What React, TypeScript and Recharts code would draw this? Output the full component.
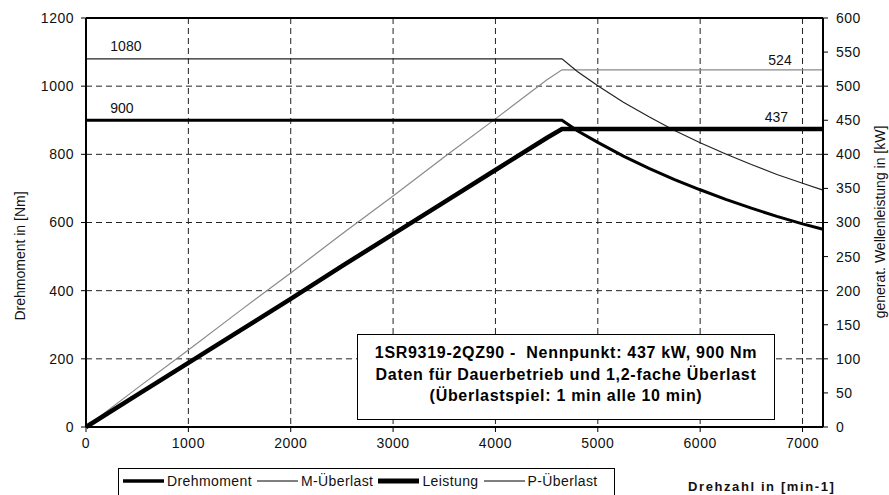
import {
  ComposedChart,
  Line,
  XAxis,
  YAxis,
  CartesianGrid,
  ReferenceLine,
  ReferenceDot,
} from 'recharts';

const FONT = "'Liberation Sans', Arial, sans-serif";

// Drehzahl in min-1
const speed = [0, 500, 1000, 1500, 2000, 2500, 3000, 3500, 4000, 4500, 4650, 4800, 5000, 5250, 5500, 5750, 6000, 6250, 6500, 6750, 7000, 7200];
// Nm
const drehmoment = [900, 900, 900, 900, 900, 900, 900, 900, 900, 900, 900, 869, 835, 795, 759, 726, 696, 668, 642, 618, 596, 580];
const mUeberlast = [1080, 1080, 1080, 1080, 1080, 1080, 1080, 1080, 1080, 1080, 1080, 1043, 1001, 953, 910, 870, 834, 801, 770, 741, 715, 695];
// kW
const leistung = [0, 47, 94, 141, 188, 236, 283, 330, 377, 424, 437, 437, 437, 437, 437, 437, 437, 437, 437, 437, 437, 437];
const pUeberlast = [0, 57, 113, 170, 226, 283, 339, 396, 452, 509, 524, 524, 524, 524, 524, 524, 524, 524, 524, 524, 524, 524];

const xTicks = [0, 1000, 2000, 3000, 4000, 5000, 6000, 7000];
const leftTicks = [0, 200, 400, 600, 800, 1000, 1200];
const rightTicks = [0, 50, 100, 150, 200, 250, 300, 350, 400, 450, 500, 550, 600];

const infoLines = [
  '1SR9319-2QZ90 -  Nennpunkt: 437 kW, 900 Nm',
  'Daten für Dauerbetrieb und 1,2-fache Überlast',
  '(Überlastspiel: 1 min alle 10 min)',
];

const legendItems = [
  { name: 'Drehmoment', width: 3.5, color: '#000' },
  { name: 'M-Überlast', width: 1, color: '#000' },
  { name: 'Leistung', width: 5, color: '#000' },
  { name: 'P-Überlast', width: 1, color: '#000' },
];

const data = speed.map((n, i) => ({
  n,
  drehmoment: drehmoment[i],
  mUeberlast: mUeberlast[i],
  leistung: leistung[i],
  pUeberlast: pUeberlast[i],
}));

const tickStyle = { fill: '#111', fontSize: 14, fontFamily: FONT, letterSpacing: 0.5 };

export default function App() {
  return (
    <div style={{ position: 'absolute', left: 0, top: 0, width: 889, height: 495, background: '#fff', fontFamily: FONT }}>
      <ComposedChart width={889} height={495} data={data} margin={{ top: 18, right: 0, bottom: 38, left: 0 }}>
        <CartesianGrid
          yAxisId="left"
          stroke="#222"
          strokeDasharray="6 4"
          strokeWidth={1}
        />
        <XAxis
          dataKey="n"
          type="number"
          domain={[0, 7200]}
          ticks={xTicks}
          height={30}
          tick={tickStyle}
          tickSize={5}
          tickMargin={6}
          axisLine={{ stroke: '#000', strokeWidth: 2 }}
          tickLine={{ stroke: '#000' }}
        />
        <YAxis
          yAxisId="left"
          domain={[0, 1200]}
          ticks={leftTicks}
          width={86}
          tick={tickStyle}
          tickSize={5}
          tickMargin={7}
          axisLine={{ stroke: '#000', strokeWidth: 2 }}
          tickLine={{ stroke: '#000' }}
        />
        <YAxis
          yAxisId="right"
          orientation="right"
          domain={[0, 600]}
          ticks={rightTicks}
          width={66}
          tick={tickStyle}
          tickSize={5}
          tickMargin={8}
          axisLine={{ stroke: '#000', strokeWidth: 2 }}
          tickLine={{ stroke: '#000' }}
        />
        <ReferenceLine yAxisId="left" y={1200} stroke="#000" strokeWidth={2} />
        <Line
          yAxisId="right"
          type="linear"
          dataKey="pUeberlast"
          stroke="#8a8a8a"
          strokeWidth={1.2}
          dot={false}
          isAnimationActive={false}
        />
        <Line
          yAxisId="left"
          type="linear"
          dataKey="mUeberlast"
          stroke="#222"
          strokeWidth={1.2}
          dot={false}
          isAnimationActive={false}
        />
        <Line
          yAxisId="left"
          type="linear"
          dataKey="drehmoment"
          stroke="#000"
          strokeWidth={3}
          dot={false}
          isAnimationActive={false}
        />
        <Line
          yAxisId="right"
          type="linear"
          dataKey="leistung"
          stroke="#000"
          strokeWidth={4.5}
          dot={false}
          isAnimationActive={false}
        />
        <ReferenceDot
          yAxisId="left"
          x={390}
          y={1080}
          r={0}
          fill="none"
          stroke="none"
          label={{ value: '1080', position: 'top', offset: 8, fill: '#111', fontSize: 14, fontFamily: FONT }}
        />
        <ReferenceDot
          yAxisId="left"
          x={350}
          y={900}
          r={0}
          fill="none"
          stroke="none"
          label={{ value: '900', position: 'top', offset: 7, fill: '#111', fontSize: 14, fontFamily: FONT }}
        />
        <ReferenceDot
          yAxisId="right"
          x={6780}
          y={524}
          r={0}
          fill="none"
          stroke="none"
          label={{ value: '524', position: 'top', offset: 5, fill: '#111', fontSize: 14, fontFamily: FONT }}
        />
        <ReferenceDot
          yAxisId="right"
          x={6745}
          y={437}
          r={0}
          fill="none"
          stroke="none"
          label={{ value: '437', position: 'top', offset: 7, fill: '#111', fontSize: 14, fontFamily: FONT }}
        />
      </ComposedChart>

      {/* axis titles */}
      <div
        style={{
          position: 'absolute',
          left: 20,
          top: 256,
          transform: 'translate(-50%, -50%) rotate(-90deg)',
          whiteSpace: 'nowrap',
          fontSize: 14,
          color: '#111',
        }}
      >
        Drehmoment in [Nm]
      </div>
      <div
        style={{
          position: 'absolute',
          left: 880,
          top: 222,
          transform: 'translate(-50%, -50%) rotate(-90deg)',
          whiteSpace: 'nowrap',
          fontSize: 14,
          color: '#111',
        }}
      >
        generat. Wellenleistung in [kW]
      </div>
      <div
        style={{
          position: 'absolute',
          left: 688,
          top: 479,
          whiteSpace: 'nowrap',
          fontSize: 13,
          fontWeight: 'bold',
          letterSpacing: 1.6,
          color: '#111',
        }}
      >
        Drehzahl in [min-1]
      </div>

      {/* info box */}
      <div
        style={{
          position: 'absolute',
          left: 357,
          top: 334,
          width: 416,
          height: 77,
          border: '1px solid #000',
          background: '#fff',
          boxSizing: 'content-box',
          paddingTop: 7,
          textAlign: 'center',
          fontSize: 16,
          fontWeight: 'bold',
          letterSpacing: 0.7,
          lineHeight: '21.5px',
          color: '#000',
        }}
      >
        {infoLines.map((l) => (
          <div key={l} style={{ whiteSpace: 'pre' }}>{l}</div>
        ))}
      </div>

      {/* legend */}
      <div
        style={{
          position: 'absolute',
          left: 118,
          top: 468,
          width: 497,
          height: 30,
          border: '1px solid #000',
          background: '#fff',
          display: 'flex',
          alignItems: 'flex-start',
          paddingLeft: 4,
          paddingTop: 4,
          boxSizing: 'border-box',
          fontSize: 14,
          letterSpacing: 0.4,
          color: '#111',
        }}
      >
        {legendItems.map((it) => (
          <div key={it.name} style={{ display: 'flex', alignItems: 'center', marginRight: 5 }}>
            <svg width={41} height={16}>
              <line x1={0} y1={8} x2={41} y2={8} stroke={it.color} strokeWidth={it.width} strokeLinecap="round" />
            </svg>
            <span style={{ marginLeft: 3 }}>{it.name}</span>
          </div>
        ))}
      </div>
    </div>
  );
}
